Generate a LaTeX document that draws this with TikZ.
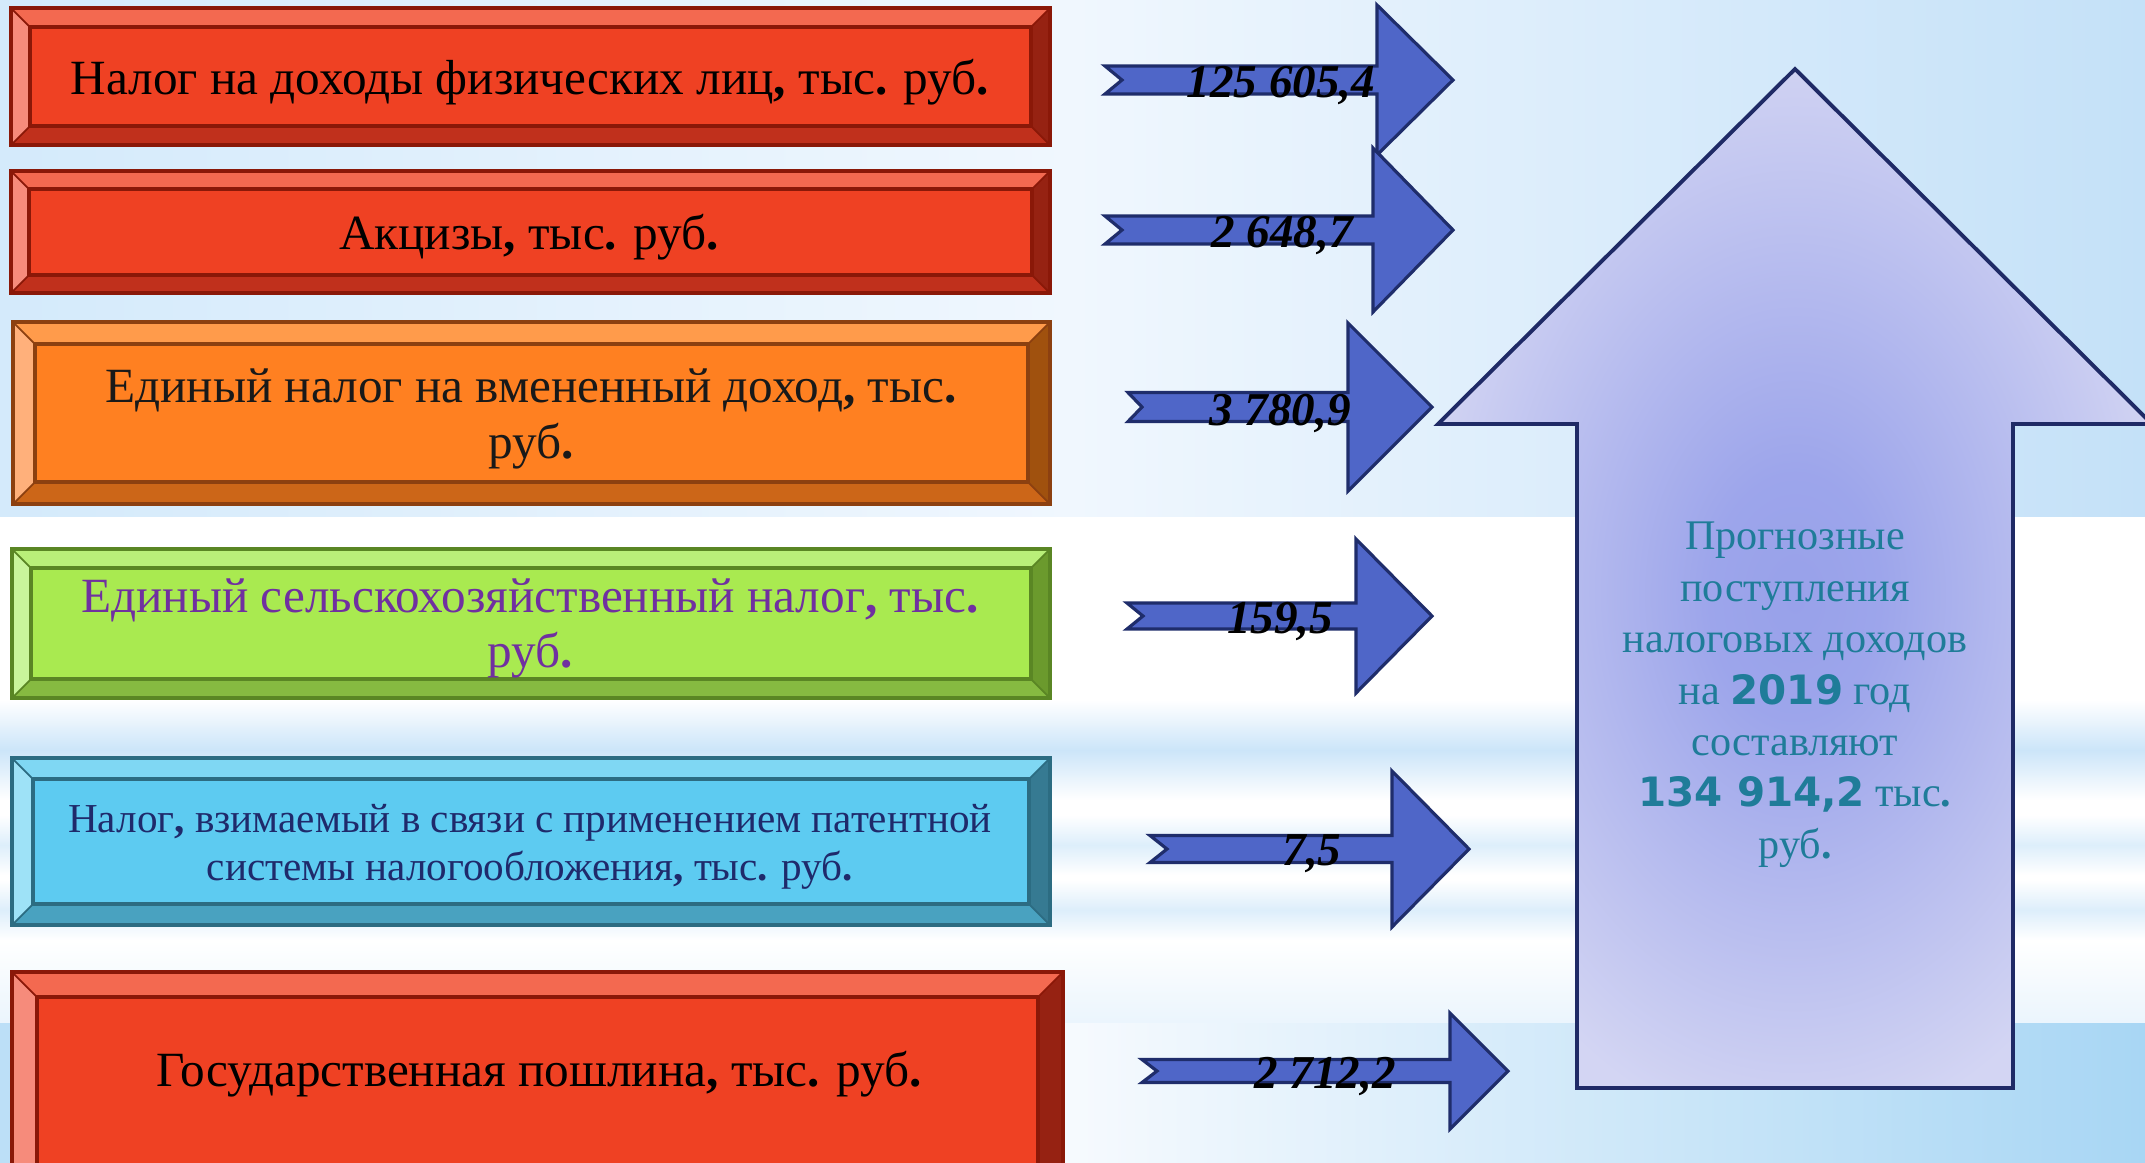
\documentclass[tikz,border=0pt]{standalone}
\usepackage{fontspec}
\setmainfont{Liberation Serif}
\newfontfamily\numsans{DejaVu Sans}
\definecolor{rMain}{HTML}{EF4123}
\definecolor{rTop}{HTML}{F36950}
\definecolor{rBot}{HTML}{C0301C}
\definecolor{rLeft}{HTML}{F68B7B}
\definecolor{rRight}{HTML}{962212}
\definecolor{rLine}{HTML}{8A1808}
\definecolor{oMain}{HTML}{FF8021}
\definecolor{oTop}{HTML}{FF9B4B}
\definecolor{oBot}{HTML}{CC6618}
\definecolor{oLeft}{HTML}{FFB07B}
\definecolor{oRight}{HTML}{A0510E}
\definecolor{oLine}{HTML}{8C4010}
\definecolor{gMain}{HTML}{A9EA50}
\definecolor{gTop}{HTML}{B9EF79}
\definecolor{gBot}{HTML}{86BA41}
\definecolor{gLeft}{HTML}{C9F59B}
\definecolor{gRight}{HTML}{6B9A2D}
\definecolor{gLine}{HTML}{5A8624}
\definecolor{bMain}{HTML}{5DCBF1}
\definecolor{bTop}{HTML}{7FD7F3}
\definecolor{bBot}{HTML}{49A2C0}
\definecolor{bLeft}{HTML}{9EE2F7}
\definecolor{bRight}{HTML}{367A92}
\definecolor{bLine}{HTML}{2C6C82}
\definecolor{arrowFill}{HTML}{4F66C8}
\definecolor{arrowLine}{HTML}{1F2D6B}
\definecolor{bigIn}{HTML}{98A1EA}
\definecolor{bigOut}{HTML}{D3D5F3}
\definecolor{bigLine}{HTML}{1F2A66}
\definecolor{tealtxt}{HTML}{1F7C99}
\definecolor{purpletxt}{HTML}{7030A0}
\definecolor{navytxt}{HTML}{1F2A6B}
\definecolor{bgL}{HTML}{D4EAFB}
\definecolor{bgM}{HTML}{F0F7FE}
\definecolor{bgR}{HTML}{C4E1F8}
\definecolor{bgBL}{HTML}{BCDFF7}
\definecolor{bgBM}{HTML}{F6FAFE}
\definecolor{bgBR}{HTML}{A8D6F4}
\definecolor{streakA}{HTML}{CCE5F9}
\definecolor{streakB}{HTML}{DDEEFB}
\pgfdeclareradialshading{bigshade}{\pgfpoint{0bp}{-1bp}}{color(0bp)=(bigIn); color(6bp)=(bigIn!92!bigOut); color(27bp)=(bigOut); color(50bp)=(bigOut)}
\newcommand\bevbox[6]{%
  \fill[#6Main] (#1,#2) rectangle (#3,#4);
  \fill[#6Top] (#1,#2) -- (#3,#2) -- ({#3-#5},{#2+#5}) -- ({#1+#5},{#2+#5}) -- cycle;
  \fill[#6Bot] (#1,#4) -- (#3,#4) -- ({#3-#5},{#4-#5}) -- ({#1+#5},{#4-#5}) -- cycle;
  \fill[#6Left] (#1,#2) -- ({#1+#5},{#2+#5}) -- ({#1+#5},{#4-#5}) -- (#1,#4) -- cycle;
  \fill[#6Right] (#3,#2) -- ({#3-#5},{#2+#5}) -- ({#3-#5},{#4-#5}) -- (#3,#4) -- cycle;
  \draw[#6Line, line width=0.5pt] (#1,#2) -- ({#1+#5},{#2+#5}) (#3,#2) -- ({#3-#5},{#2+#5})
     (#1,#4) -- ({#1+#5},{#4-#5}) (#3,#4) -- ({#3-#5},{#4-#5});
  \draw[#6Line, line width=1pt] ({#1+#5},{#2+#5}) rectangle ({#3-#5},{#4-#5});
  \draw[#6Line, line width=1pt] (#1,#2) rectangle (#3,#4);
}
\newcommand\flowarrow[7]{%
  \draw[flow] (#1,{#3-#4}) -- (#5,{#3-#4}) -- (#5,{#3-#6}) -- (#7,#3) -- (#5,{#3+#6})
     -- (#5,{#3+#4}) -- (#1,{#3+#4}) -- ({#1+#2},#3) -- cycle;
}
\begin{document}
\begin{tikzpicture}[x=0.01cm,y=-0.01cm,
  boxtext/.style={anchor=base, align=center, inner sep=0pt},
  bigfont/.style={font=\fontsize{14}{16}\selectfont},
  numtext/.style={anchor=base, inner sep=0pt, font=\fontsize{13.4}{16}\selectfont\bfseries\itshape},
  flow/.style={fill=arrowFill, draw=arrowLine, line width=0.9pt, line join=miter}]
\clip (0,0) rectangle (2145,1162);
% background
\shade[left color=bgL, right color=bgR, middle color=bgM] (0,0) rectangle (2145,517);
\fill[white] (0,517) rectangle (2145,1023);
\shade[top color=white, bottom color=white, middle color=streakA] (0,700) rectangle (2145,800);
\shade[top color=white, bottom color=white, middle color=streakB] (0,815) rectangle (2145,875);
\shade[top color=white, bottom color=white, middle color=streakB] (0,880) rectangle (2145,940);
\shade[top color=white, bottom color=streakB!60!white] (0,940) rectangle (2145,1023);
\shade[left color=bgBL, right color=bgBR, middle color=bgBM] (0,1023) rectangle (2145,1162);
% boxes
\bevbox{11}{8}{1050}{145}{19}{r}
\bevbox{11}{171}{1050}{293}{18}{r}
\bevbox{13}{322}{1050}{504}{22}{o}
\bevbox{12}{549}{1050}{698}{19}{g}
\bevbox{12}{758}{1050}{925}{21}{b}
\bevbox{12}{972}{1063}{1200}{25}{r}
\node[boxtext, bigfont] (t1) at (530,94) {Налог на доходы физических лиц\textbf{,} тыс\textbf{.} руб\textbf{.}};
\node[boxtext, bigfont] (t2) at (529,249) {Акцизы\textbf{,} тыс\textbf{.} руб\textbf{.}};
\node[boxtext, font=\fontsize{14}{15.9}\selectfont, text={black!90}] (t3) at (531,458) {Единый налог на вмененный доход\textbf{,} тыс\textbf{.}\\руб\textbf{.}};
\node[boxtext, font=\fontsize{14}{15.6}\selectfont, text=purpletxt] (t4) at (530,667) {Единый сельскохозяйственный налог\textbf{,} тыс\textbf{.}\\руб\textbf{.}};
\node[boxtext, font=\fontsize{11.7}{13.6}\selectfont, text=navytxt] (t5) at (530,880) {Налог\textbf{,} взимаемый в связи с применением патентной\\системы налогообложения\textbf{,} тыс\textbf{.} руб\textbf{.}};
\node[boxtext, bigfont] (t6) at (539,1086) {Государственная пошлина\textbf{,} тыс\textbf{.} руб\textbf{.}};
% flow arrows
\flowarrow{1105}{17}{80}{14}{1377}{75}{1453}
\flowarrow{1105}{17}{230}{14}{1373}{82}{1453}
\flowarrow{1128}{14}{407}{14.5}{1348}{84}{1432}
\flowarrow{1127}{16}{616}{13}{1356}{77}{1432}
\flowarrow{1150}{17}{849}{13.5}{1392}{78}{1469}
\flowarrow{1142}{15}{1071}{11.5}{1450}{58}{1508}
\node[numtext] (n1) at (1281,97) {125 605,4};
\node[numtext] (n2) at (1282,247) {2 648,7};
\node[numtext] (n3) at (1280,425) {3 780,9};
\node[numtext] (n4) at (1280,633) {159,5};
\node[numtext] (n5) at (1312,865) {7,5};
\node[numtext] (n6) at (1325,1088) {2 712,2};
% big arrow
\shade[shading=bigshade] (1795,69) -- (2152,424) -- (2013,424) -- (2013,1088) -- (1577,1088) -- (1577,424) -- (1438,424) -- cycle;
\draw[bigLine, line width=1.1pt, line join=miter] (1795,69) -- (2152,424) -- (2013,424) -- (2013,1088) -- (1577,1088) -- (1577,424) -- (1438,424) -- cycle;
\node[boxtext, font=\fontsize{12}{14.6}\selectfont, text=tealtxt] (total) at (1795,858) {Прогнозные\\поступления\\налоговых доходов\\на {\numsans\bfseries\fontsize{11.5}{14.6}\selectfont 2019} год\\составляют\\{\numsans\bfseries\fontsize{11.5}{14.6}\selectfont 134 914,2} тыс\textbf{.}\\руб\textbf{.}};
\end{tikzpicture}
\end{document}
